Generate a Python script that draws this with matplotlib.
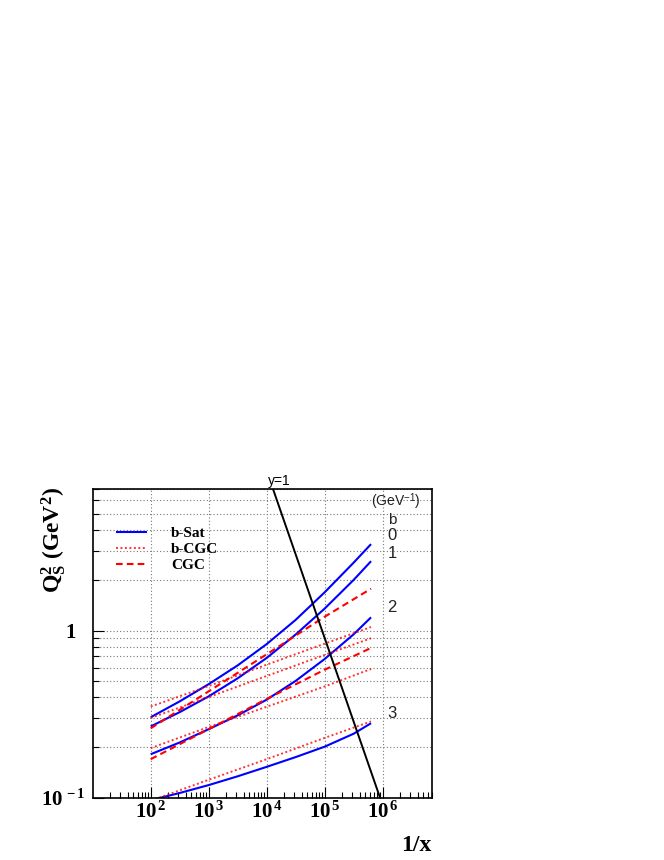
import numpy as np
import matplotlib
matplotlib.use("Agg")
import matplotlib.pyplot as plt
from matplotlib.ticker import FixedLocator, FixedFormatter, LogLocator, NullFormatter
from matplotlib.lines import Line2D

plt.rcParams['mathtext.fontset'] = 'custom'
plt.rcParams['mathtext.rm'] = 'Liberation Serif:bold'
plt.rcParams['mathtext.bf'] = 'Liberation Serif:bold'
plt.rcParams['mathtext.it'] = 'Liberation Serif:bold:italic'
plt.rcParams['mathtext.sf'] = 'Liberation Sans'

# ---------------- data ----------------
inv_x = [1e2, 10**2.5, 1e3, 10**3.5, 1e4, 10**4.5, 1e5, 10**5.5, 6.3e5]

bsat_b0 = [0.303, 0.377, 0.478, 0.619, 0.830, 1.159, 1.694, 2.55, 3.29]
bsat_b1 = [0.267, 0.325, 0.404, 0.518, 0.686, 0.947, 1.354, 2.01, 2.60]
bsat_b2 = [0.182, 0.214, 0.257, 0.311, 0.386, 0.500, 0.676, 0.95, 1.20]
bsat_b3 = [0.0967, 0.1067, 0.119, 0.1343, 0.153, 0.175, 0.202, 0.2415, 0.279]

inv_x_lin = [1e2, 1e3, 1e4, 1e5, 6.3e5]
bcgc_1 = [0.351, 0.466, 0.625, 0.835, 1.05]
bcgc_2 = [0.300, 0.400, 0.535, 0.715, 0.90]
bcgc_3 = [0.198, 0.265, 0.350, 0.463, 0.589]
bcgc_4 = [0.0958, 0.128, 0.170, 0.228, 0.286]

cgc_1 = [0.26, 0.433, 0.721, 1.21, 1.78]
cgc_2 = [0.17, 0.257, 0.39, 0.583, 0.787]

# kinematic limit y = 1
y1_invx = [1.29e4, 9.0e5]
y1_q2 = [7.0, 0.1]

x_ticks = [1e2, 1e3, 1e4, 1e5, 1e6]
x_ticklabels = [r'$10^{\,2}$', r'$10^{\,3}$', r'$10^{\,4}$', r'$10^{\,5}$', r'$10^{\,6}$']
y_ticks = [0.1, 1.0]
y_ticklabels = [r'$10^{\,-1}$', '1']

b_labels = ['b', '0', '1', '2', '3']
legend_labels = ['b-Sat', 'b-CGC', 'CGC']

# ---------------- figure ----------------
W, H = 664, 860
fig = plt.figure(figsize=(W / 100, H / 100), dpi=100)
L, R, T, B = 92.7, 431.7, 489.3, 797.7
ax = fig.add_axes([L / W, 1 - B / H, (R - L) / W, (B - T) / H])
ax.set_xscale('log')
ax.set_yscale('log')
ax.set_xlim(10, 7e6)
ax.set_ylim(0.1, 7)

blue = '#0000ff'
red = '#ff0000'
sol = dict(color=blue, lw=1.5, solid_capstyle='butt', solid_joinstyle='round')
dot = dict(color=red, lw=1.4, ls=(0, (1, 1.3)), alpha=0.8)
dash = dict(color=red, lw=1.5, ls=(0, (3.2, 2.0)))

for arr in (bsat_b0, bsat_b1, bsat_b2, bsat_b3):
    ax.plot(inv_x, arr, **sol)
for arr in (bcgc_1, bcgc_2, bcgc_3, bcgc_4):
    ax.plot(inv_x_lin, arr, **dot)
for arr in (cgc_1, cgc_2):
    ax.plot(inv_x_lin, arr, **dash)

ax.plot(y1_invx, y1_q2, color='black', lw=1.4)

# ticks and grid
ax.xaxis.set_major_locator(FixedLocator(x_ticks))
ax.xaxis.set_major_formatter(FixedFormatter(x_ticklabels))
ax.xaxis.set_minor_locator(LogLocator(base=10, subs=np.arange(2, 10), numticks=20))
ax.xaxis.set_minor_formatter(NullFormatter())
ax.yaxis.set_major_locator(FixedLocator(y_ticks))
ax.yaxis.set_major_formatter(FixedFormatter(y_ticklabels))
ax.yaxis.set_minor_locator(LogLocator(base=10, subs=np.arange(2, 10), numticks=20))
ax.yaxis.set_minor_formatter(NullFormatter())

gstyle = dict(color='#777777', lw=0.8, ls=(0, (1, 2)))
ax.grid(True, axis='x', which='major', **gstyle)
ax.grid(True, axis='y', which='both', **gstyle)
ax.set_axisbelow(True)

ax.tick_params(axis='both', which='major', direction='in', length=8, width=0.8,
               labelsize=15, top=False, right=False)
ax.tick_params(axis='both', which='minor', direction='in', length=4.5, width=0.8,
               top=False, right=False)
ax.tick_params(axis='x', which='major', pad=3)
for lab in ax.get_xticklabels() + ax.get_yticklabels():
    lab.set_fontfamily('Liberation Serif')
    lab.set_fontweight('bold')
yt = ax.yaxis.get_major_ticks()
yt[0].set_pad(5)
yt[1].set_pad(12)

for s in ax.spines.values():
    s.set_linewidth(1.2)

# axis titles
ax.set_ylabel(r'$\mathrm{Q_S^2}$ (GeV$^{\mathrm{2}}$)', fontsize=17,
              fontfamily='Liberation Serif', fontweight='bold')
ax.yaxis.set_label_coords((68 - L) / (R - L), (B - 540) / (B - T))
ax.set_xlabel('1/x', fontsize=17, fontfamily='Liberation Serif', fontweight='bold')
ax.xaxis.label.set_ha('right')
ax.xaxis.set_label_coords((431 - L) / (R - L), (B - 835) / (B - T))

# legend
handles = [Line2D([], [], **sol), Line2D([], [], **dot), Line2D([], [], **dash)]
leg = ax.legend(handles, legend_labels, loc='upper left', frameon=False,
                bbox_to_anchor=((113 - L) / (R - L), (B - 523.5) / (B - T)),
                prop=dict(family='Liberation Serif', weight='bold', size=11),
                handlelength=2.0, handletextpad=1.6, labelspacing=0.15,
                borderpad=0.2, borderaxespad=0.0)

# right-hand labels
def axy(py):
    return (B - py) / (B - T)

def axx(px):
    return (px - L) / (R - L)

ax.text(axx(396), axy(502), r'(GeV$^{\mathsf{-1}}$)', fontsize=10, fontfamily='Liberation Sans',
        color='#222222', ha='center', va='center', transform=ax.transAxes, clip_on=False)
b_y = [519.5, 536, 554, 607.5, 714]
b_size = [11, 12, 12, 12, 12]
for lab, py, fs in zip(b_labels, b_y, b_size):
    ax.text(axx(392), axy(py), lab, fontsize=fs, fontfamily='Liberation Sans',
            color='#222222', ha='center', va='center', transform=ax.transAxes)

ax.text(axx(279), axy(481.5), 'y=1', fontsize=10, fontfamily='Liberation Sans',
        ha='center', va='center', transform=ax.transAxes, clip_on=False)

fig.savefig('out.png', dpi=100)
